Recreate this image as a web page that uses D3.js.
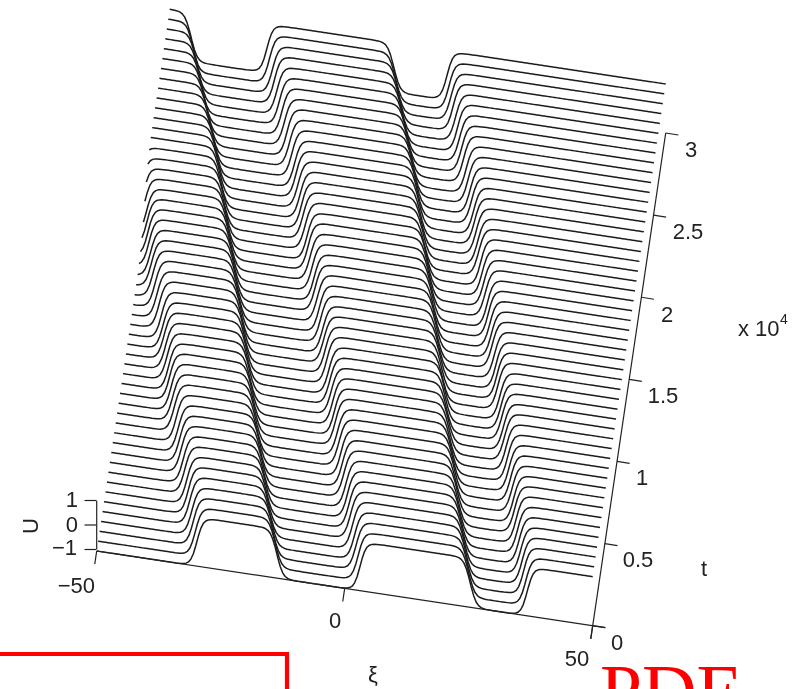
<!DOCTYPE html>
<html><head><meta charset="utf-8">
<script src="https://cdn.jsdelivr.net/npm/d3@7/dist/d3.min.js"></script>
<style>html,body{margin:0;padding:0;background:#fff;overflow:hidden}svg{display:block}
text{font-family:"Liberation Sans",Arial,sans-serif;fill:#222}</style></head><body>
<script>
// --- data ---
const tStep = 600;                                   // one curve per 600 time units
const frontSigns = [1,-1,1,-1,1];                    // rising / falling fronts
const frontA = [-29.8,-30.4,-31.1,-31.7,-32.4,-33.0,-33.6,-34.3,-34.9,-35.6,-36.2,-36.8,-37.5,-38.2,-38.8,-39.4,-40.0,-40.5,-41.1,-41.7,-42.3,-42.8,-43.4,-44.2,-44.9,-45.6,-46.3,-46.9,-47.4,-48.0,-48.5,-49.0,-49.4,-50.0,-50.5,-51.1,-51.8,-53.5,-54.1,-54.8,-55.4,-56.0,-56.7,-57.3,-58.0,-58.6,-59.2,-59.9,-60.5,-61.2,-61.8];
const frontB = [-13.7,-14.3,-15.0,-15.6,-16.3,-16.9,-17.55,-18.1,-18.75,-19.3,-19.95,-20.5,-21.2,-21.75,-22.3,-22.9,-23.45,-24.1,-24.6,-25.2,-25.75,-26.35,-26.9,-27.55,-28.1,-28.75,-29.35,-29.95,-30.55,-31.15,-31.8,-32.4,-33.05,-33.65,-34.3,-34.85,-35.55,-36.1,-36.7,-37.4,-38.1,-38.9,-39.6,-40.4,-41.2,-42.0,-42.7,-43.5,-44.2,-45.0,-45.7];
const frontC = [3.1,2.4,1.7,1.1,0.4,-0.3,-0.9,-1.5,-2.1,-2.8,-3.4,-4.0,-4.7,-5.3,-6.0,-6.5,-7.1,-7.7,-8.3,-8.8,-9.5,-10.1,-10.7,-11.2,-11.9,-12.5,-13.2,-13.9,-14.4,-15.1,-15.8,-16.5,-17.0,-17.7,-18.4,-19.0,-19.6,-20.3,-21.0,-21.6,-22.4,-23.2,-24.0,-24.8,-25.6,-26.4,-27.2,-28.0,-28.7,-29.6,-30.4];
const frontD = [25.3,24.7,24.1,23.5,22.9,22.3,21.7,21.1,20.5,20.0,19.4,18.9,18.3,17.7,17.1,16.6,16.1,15.5,15.0,14.5,13.8,13.3,12.8,12.2,11.6,11.1,10.5,9.9,9.4,8.8,8.2,7.6,7.0,6.3,5.8,5.2,4.6,4.1,3.5,2.9,2.2,1.5,0.8,0.1,-0.6,-1.4,-2.1,-2.8,-3.5,-4.2,-4.8];
const frontE = [36.8,36.2,35.5,34.9,34.3,33.7,33.1,32.5,31.9,31.4,30.8,30.2,29.6,29.0,28.4,27.8,27.3,26.7,26.2,25.7,25.0,24.5,24.0,23.4,22.7,22.2,21.6,21.0,20.5,19.8,19.2,18.6,18.0,17.3,16.8,16.2,15.6,15.1,14.4,13.8,13.1,12.4,11.6,10.9,10.2,9.5,8.8,8.0,7.3,6.6,5.9];
const profileOffset = [-6,-4,-3,-2.5,-2,-1.5,-1,-0.5,0,0.5,1,1.5,2,2.5,3,4,6];
const profileU = [-1,-0.997,-0.987,-0.97,-0.93,-0.85,-0.68,-0.39,0,0.39,0.68,0.85,0.93,0.97,0.987,0.997,1];
const xiTicks = [-50,0,50];
const tTicks = [0,5000,10000,15000,20000,25000,30000];
const tTickLabels = ["0","0.5","1","1.5","2","2.5","3"];
const uTicks = [-1,0,1];
const fronts = [frontA,frontB,frontC,frontD,frontE];
const times = frontA.map((_,i)=>i*tStep);
const xiGrid = d3.range(-50,50.01,0.5);

// --- oblique projection built from linear scales ---
const xiX = d3.scaleLinear().domain([-50,50]).range([96.7,592.7]);
const xiY = d3.scaleLinear().domain([-50,50]).range([551,625.7]);
const tX  = d3.scaleLinear().domain([0,30000]).range([0,73]);
const tY  = d3.scaleLinear().domain([0,30000]).range([0,-492.7]);
const uY  = d3.scaleLinear().domain([-1,1]).range([0,-49]);
const px = (xi,t)=>xiX(xi)+tX(t);
const py = (xi,t,u)=>xiY(xi)+tY(t)+uY(u);
const profile = d3.scaleLinear().domain(profileOffset).range(profileU).clamp(true);
const uAt = (xi,i)=>fronts.reduce((u,f,k)=>u+frontSigns[k]*(profile(xi-f[i])+1),-1);

const svg = d3.select("body").append("svg").attr("width",796).attr("height",689);
const defs = svg.append("defs");
defs.append("filter").attr("id","soft").attr("x",0).attr("y",0).attr("width",1).attr("height",1)
  .attr("filterUnits","objectBoundingBox")
  .append("feGaussianBlur").attr("stdDeviation",0.4);
const chart = svg.append("g").attr("filter","url(#soft)");
chart.append("rect").attr("width",796).attr("height",689).attr("fill","#fff");

// --- waterfall, drawn back to front with hidden lines ---
const line = d3.line().x(d=>px(d.xi,d.t)).y(d=>py(d.xi,d.t,d.u));
const area = d3.area().x(d=>px(d.xi,d.t)).y0(d=>py(d.xi,d.t,-1)).y1(d=>py(d.xi,d.t,d.u));
const series = times.map((t,i)=>xiGrid.map(xi=>({xi,t,u:uAt(xi,i)}))).reverse();
const curves = chart.append("g").selectAll("g").data(series).join("g");
curves.append("path").attr("d",area).attr("fill","#fff").attr("stroke","none");
curves.append("path").attr("d",line).attr("fill","none").attr("stroke","#1c1c1c")
  .attr("stroke-width",1.5).attr("stroke-linejoin","round");

// --- axes ---
const axes = chart.append("g").attr("stroke","#222").attr("stroke-width",1.2).attr("fill","none");
const seg = d3.line();
const xiTickLen = -800, tTickLen = 12.6;
axes.append("path").attr("d",seg([[px(-50,0),py(-50,0,-1)],[px(50,0)+tTickLen,py(50,0,-1)+2]]));
axes.append("path").attr("d",seg([[px(50,xiTickLen),py(50,xiTickLen,-1)],[px(50,30000),py(50,30000,-1)]]));
axes.selectAll(".xt").data(xiTicks).join("path").attr("d",v=>seg([[px(v,0),py(v,0,-1)],[px(v,xiTickLen),py(v,xiTickLen,-1)]]));
axes.selectAll(".tt").data(tTicks).join("path").attr("d",v=>seg([[px(50,v),py(50,v,-1)],[px(50,v)+tTickLen,py(50,v,-1)+2]]));
const uAxisScale = d3.scaleLinear().domain([-1,1]).range([py(-50,0,-1)-2,py(-50,0,1)-2]);
const uAxis = chart.append("g").attr("transform",`translate(${px(-50,0)-0.5},0)`)
  .call(d3.axisLeft(uAxisScale).tickValues(uTicks).tickSize(11.7).tickSizeOuter(0).tickFormat(""));
uAxis.selectAll("path,line").attr("stroke","#222").attr("stroke-width",1.2);

// --- labels ---
const labels = chart.append("g").attr("font-size",22).attr("text-anchor","middle");
const lbl = (s,x,y,a)=>labels.append("text").attr("x",x).attr("y",y).attr("text-anchor",a||"middle").text(s);
const tLabelPos = [[617,650],[638,567],[642,485],[663,403],[667,322],[688,239],[691,157]];
tTickLabels.forEach((s,i)=>lbl(s,tLabelPos[i][0],tLabelPos[i][1]));
lbl("1",78,507,"end"); lbl("0",78,532,"end"); lbl("\u22121",77,555,"end");
lbl("\u221250",95,593,"end"); lbl("0",335,628); lbl("50",577,666);
lbl("t",704,576);
lbl("\u03be",373,682);
lbl("x 10",738,336,"start");
labels.append("text").attr("x",780).attr("y",324).attr("font-size",14).attr("text-anchor","start").text("4");
labels.append("text").attr("transform","translate(37.5,526) rotate(-90)").text("U");

// --- red annotation overlay ---
const red = svg.append("g");
red.append("path").attr("d",seg([[0,654],[287,654],[287,689]])).attr("fill","none").attr("stroke","#f00").attr("stroke-width",4.2);
red.append("text").attr("x",600).attr("y",717).attr("font-size",75.5)
  .style("font-family","'Liberation Serif',serif").style("fill","#f00").text("PDE");
</script></body></html>
